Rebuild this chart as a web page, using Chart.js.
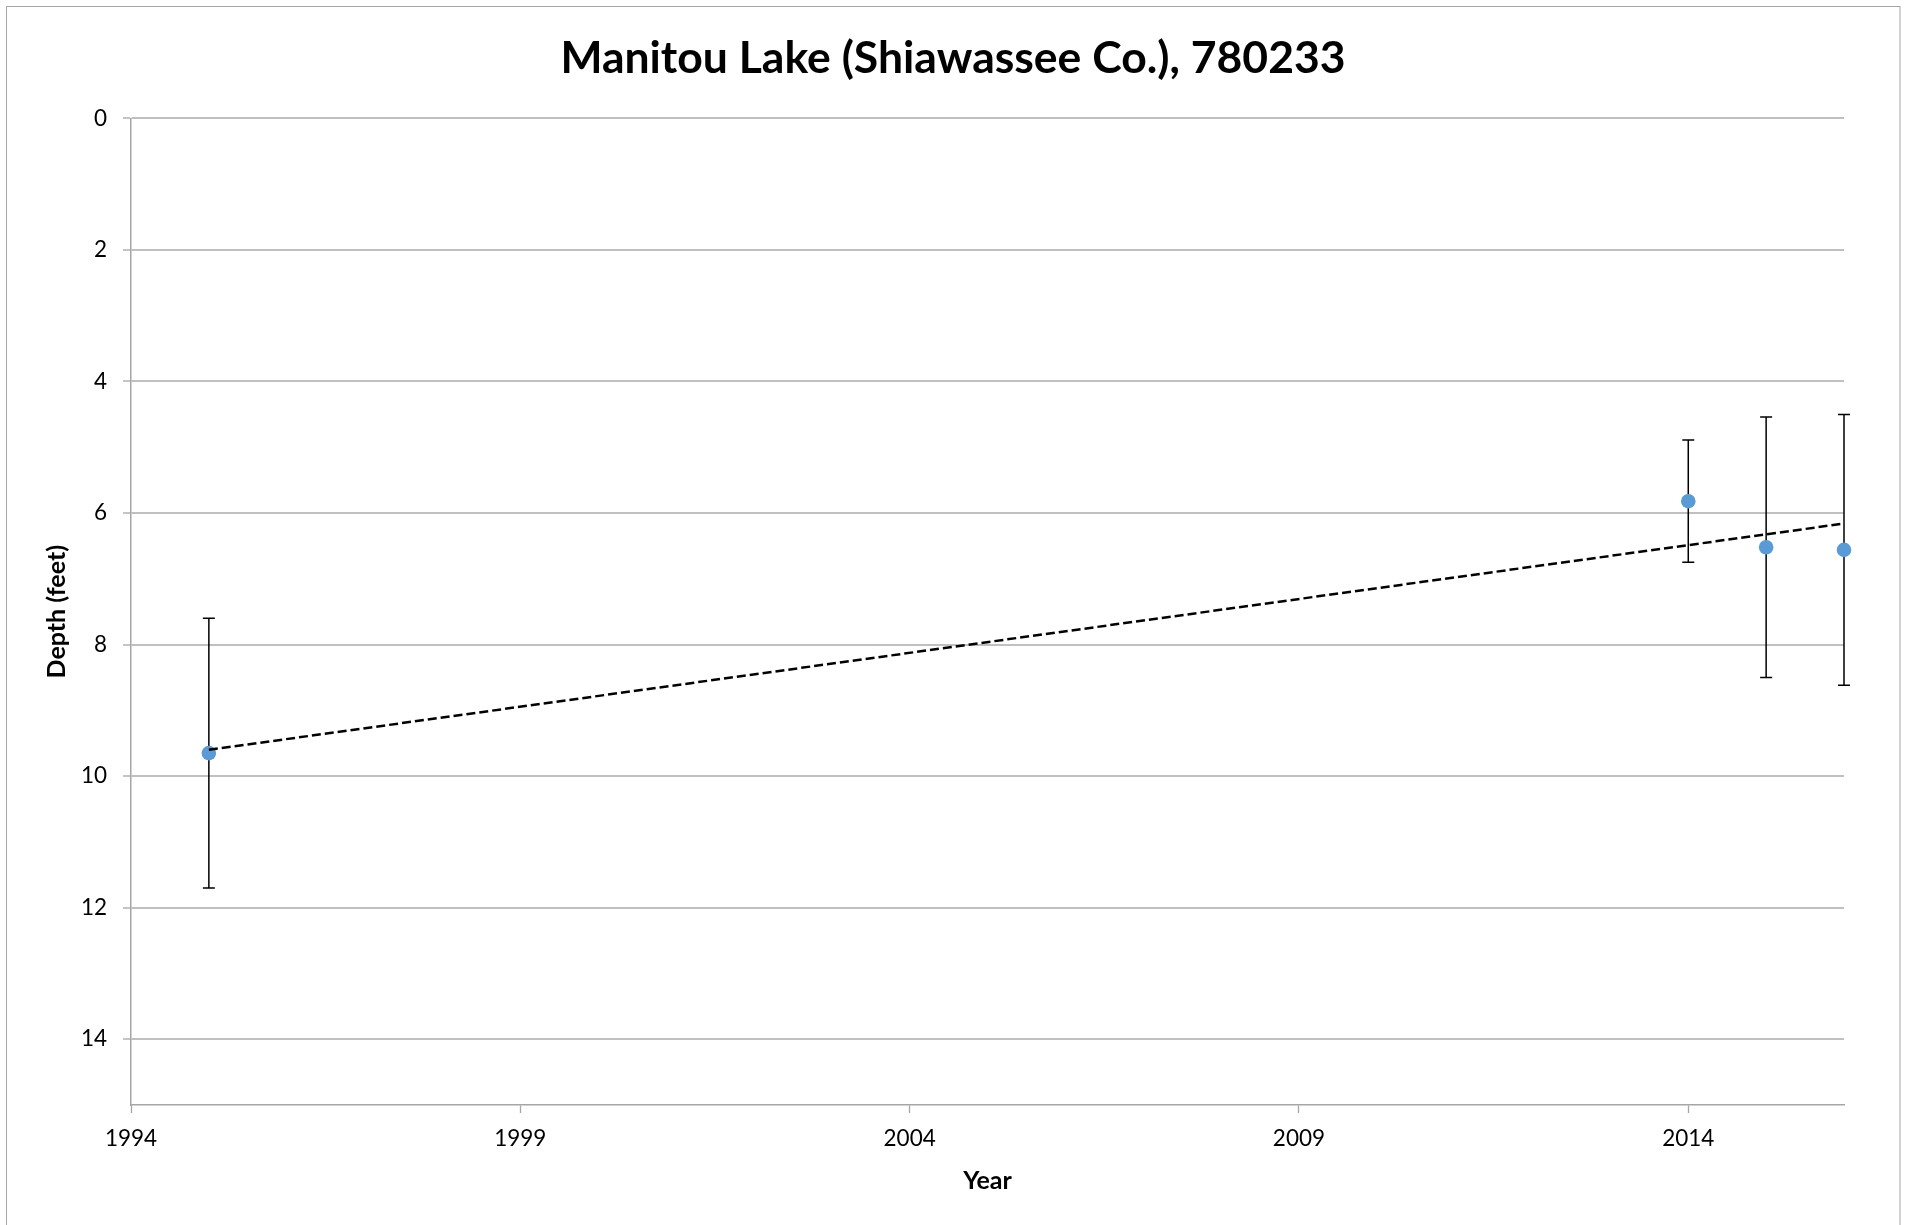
<!DOCTYPE html>
<html>
<head>
<meta charset="utf-8">
<script src="https://cdn.jsdelivr.net/npm/chart.js@4"></script>
<style>
  html, body { margin: 0; padding: 0; background: #ffffff; }
  canvas { display: block; }
</style>
</head>
<body>
<canvas id="c" width="1906" height="1225"></canvas>
<script>
// ---- data ----
const years = [1995, 2014, 2015, 2016];
const depthFeet = [9.65, 5.82, 6.52, 6.56];
const errorFeet = [2.05, 0.93, 1.98, 2.06];
const trendYears = [1995, 2016];
const trendDepth = [9.60, 6.16];
const xTickValues = [1994, 1999, 2004, 2009, 2014];
const yTickValues = [0, 2, 4, 6, 8, 10, 12, 14];
const titleText = 'Manitou Lake (Shiawassee Co.), 780233';
const xTitle = 'Year';
const yTitle = 'Depth (feet)';

const FONT = 'Lato, "Open Sans", "Noto Sans", sans-serif';

const pointData = years.map((x, i) => ({ x: x, y: depthFeet[i] }));
const trendData = trendYears.map((x, i) => ({ x: x, y: trendDepth[i] }));

const errorBarPlugin = {
  id: 'errorBars',
  beforeDatasetsDraw(chart) {
    const ctx = chart.ctx;
    const xs = chart.scales.x, ys = chart.scales.y;
    ctx.save();
    ctx.strokeStyle = '#000000';
    ctx.lineWidth = 1.5;
    years.forEach((yr, i) => {
      const px = xs.getPixelForValue(yr);
      const top = ys.getPixelForValue(depthFeet[i] - errorFeet[i]);
      const bot = ys.getPixelForValue(depthFeet[i] + errorFeet[i]);
      const cap = 6;
      ctx.beginPath();
      ctx.moveTo(px, top); ctx.lineTo(px, bot);
      ctx.moveTo(px - cap, top); ctx.lineTo(px + cap, top);
      ctx.moveTo(px - cap, bot); ctx.lineTo(px + cap, bot);
      ctx.stroke();
    });
    ctx.restore();
  }
};

const framePlugin = {
  id: 'frame',
  beforeDraw(chart) {
    const ctx = chart.ctx;
    ctx.save();
    ctx.fillStyle = '#ffffff';
    ctx.fillRect(0, 0, chart.width, chart.height);
    ctx.strokeStyle = '#a6a6a6';
    ctx.lineWidth = 1;
    ctx.strokeRect(6.5, 6.5, 1893.5, 1240);
    ctx.restore();
  }
};

new Chart(document.getElementById('c'), {
  type: 'scatter',
  data: {
    datasets: [
      {
        type: 'line',
        label: 'Trend',
        data: trendData,
        borderColor: '#000000',
        borderWidth: 2.5,
        borderDash: [9, 4],
        pointRadius: 0,
        fill: false,
        tension: 0,
        clip: false
      },
      {
        label: 'Depth',
        data: pointData,
        backgroundColor: '#5b9bd5',
        borderColor: '#5b9bd5',
        pointRadius: 7.3,
        borderWidth: 0,
        clip: false
      }
    ]
  },
  options: {
    responsive: false,
    animation: false,
    devicePixelRatio: 1,
    layout: { padding: { left: 0, right: 0, top: 0, bottom: 0 } },
    plugins: {
      legend: { display: false },
      tooltip: { enabled: false },
      title: {
        display: true,
        text: titleText,
        color: '#000000',
        font: { family: FONT, size: 44.5, weight: 'bold', lineHeight: 1.2 },
        padding: { top: 32, bottom: 33 }
      }
    },
    scales: {
      x: {
        type: 'linear',
        position: 'bottom',
        min: 1994,
        max: 2016,
        afterBuildTicks(scale) { scale.ticks = xTickValues.map(v => ({ value: v })); },
        afterFit(scale) { scale.height = 120; },
        ticks: {
          color: '#000000',
          font: { family: FONT, size: 22.5 },
          padding: 12,
          maxRotation: 0,
          autoSkip: false,
          callback: (v) => String(v)
        },
        grid: {
          drawOnChartArea: false,
          drawTicks: true,
          tickLength: 8,
          tickColor: '#a6a6a6',
          tickWidth: 1.3
        },
        border: { display: true, color: '#a6a6a6', width: 1.5 },
        title: {
          display: true,
          text: xTitle,
          color: '#000000',
          font: { family: FONT, size: 25, weight: 'bold', lineHeight: 1.2 },
          padding: { top: 0, bottom: 29 }
        }
      },
      y: {
        type: 'linear',
        position: 'left',
        reverse: true,
        min: 0,
        max: 15,
        afterBuildTicks(scale) { scale.ticks = yTickValues.map(v => ({ value: v })); },
        afterFit(scale) { scale.width = 131; },
        ticks: {
          color: '#000000',
          font: { family: FONT, size: 22.5 },
          padding: 16,
          autoSkip: false,
          callback: (v) => String(v)
        },
        grid: {
          drawOnChartArea: true,
          color: '#c0c0c0',
          lineWidth: 2,
          drawTicks: true,
          tickLength: 8,
          tickColor: '#a6a6a6',
          tickWidth: 1.3
        },
        border: { display: true, color: '#a6a6a6', width: 1.5 },
        title: {
          display: true,
          text: yTitle,
          color: '#000000',
          font: { family: FONT, size: 25, weight: 'bold', lineHeight: 1.2 },
          padding: { top: 42, bottom: 0 }
        }
      },
      yRight: {
        type: 'linear',
        position: 'right',
        display: true,
        min: 0,
        max: 15,
        afterFit(scale) { scale.width = 62; },
        ticks: { display: false },
        grid: { display: false, drawOnChartArea: false, drawTicks: false },
        border: { display: false }
      }
    }
  },
  plugins: [framePlugin, errorBarPlugin]
});
</script>
</body>
</html>
